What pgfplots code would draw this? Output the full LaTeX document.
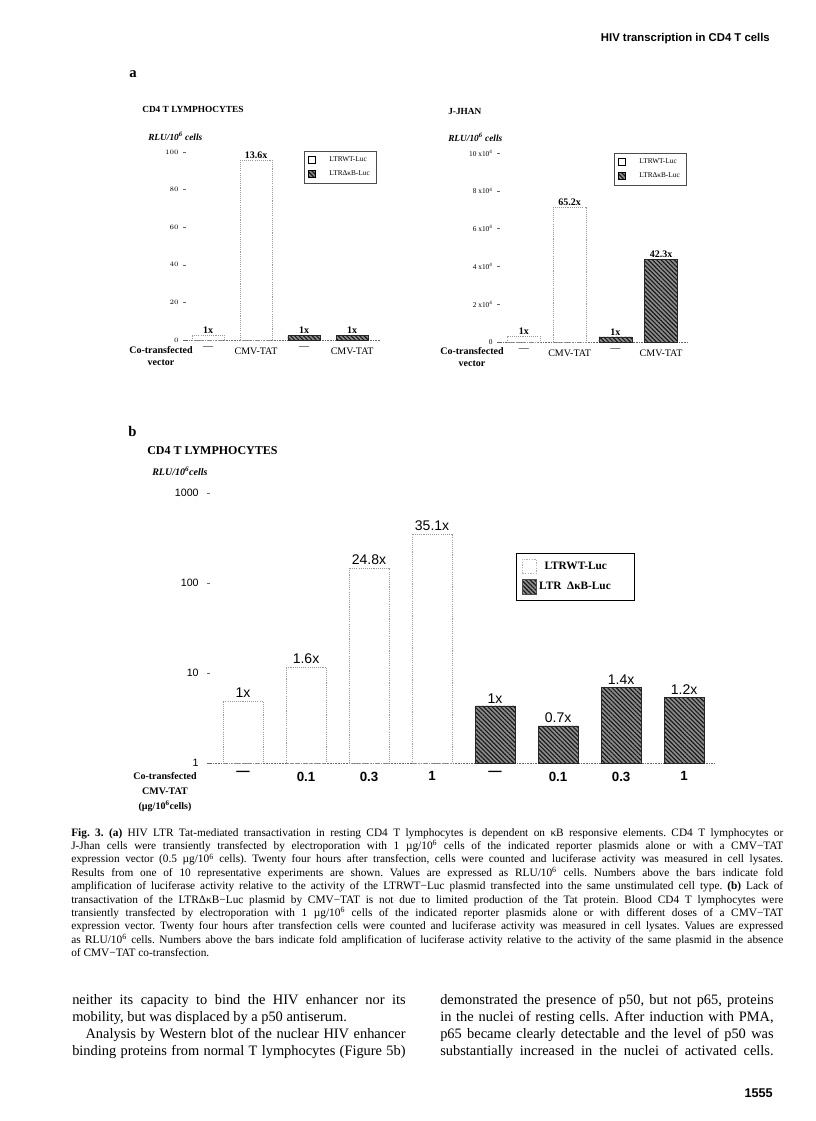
\documentclass[border=0pt]{standalone}
\usepackage{fontspec}
\setmainfont{Liberation Serif}
\setsansfont{Liberation Sans}
\usepackage{pgfplots}
\pgfplotsset{compat=1.18}
\usetikzlibrary{patterns,patterns.meta}
\frenchspacing

\tikzset{
  hatch/.style={fill=black!45, draw=black!85, line width=0.4pt,
    postaction={pattern={Lines[angle=-45,distance=2.3pt,line width=0.85pt]},pattern color=black!90}},
  wtbar/.style={fill=white, draw=black!40, dash pattern=on 0.8pt off 0.8pt, line width=0.5pt},
}
\pgfplotsset{
  scanbase/.style={
    scale only axis, anchor=south west,
    axis x line*=bottom, axis y line*=left,
    y axis line style={draw=none},
    x axis line style={black!60, line width=0.6pt, dash pattern=on 1.2pt off 0.8pt},
    xtick style={draw=none},
    ytick style={black!60, line width=0.4pt},
    tick align=outside, major tick length=2pt, minor tick length=0pt,
    ybar, nodes near coords, point meta=explicit symbolic,
    every node near coord/.append style={anchor=south, inner sep=1pt, text=black},
    clip=false, legend cell align=left,
  }
}
\def\capfont{\fontsize{8.5}{9.5}\selectfont}
\def\bodyfont{\fontsize{10.8}{12}\selectfont}
\newcommand\capline[2]{\node[anchor=base west, inner sep=0pt] at (71,#1) {\capfont\makebox[534pt][s]{#2}};}

\begin{document}
\begin{tikzpicture}
\path[use as bounding box] (0pt,0pt) rectangle (612pt,-840.75pt);

% ---------------- Panel a, CD4 T lymphocytes
\begin{axis}[scanbase,
  at={(139.5pt,-255pt)}, width=145.5pt, height=141pt,
  xmin=-0.458, xmax=3.58, ymin=0, ymax=100,
  ytick={0,20,40,60,80,100},
  xtick={0,1,2,3}, xticklabels={—,CMV-TAT,—,CMV-TAT},
  x tick label style={font=\fontsize{7.5}{8}\selectfont},
  y tick label style={font=\fontsize{5.5}{6}\selectfont},
  bar width=0.67,
  every node near coord/.append style={font=\bfseries\fontsize{7.5}{8}\selectfont},
  legend style={at={(0.608,1.005)}, anchor=north west, draw=black!70, line width=0.5pt,
    font=\fontsize{5.5}{6}\selectfont, inner xsep=3pt, inner ysep=2pt, row sep=1.5pt,
    /tikz/every even column/.append style={column sep=4pt}},
]
\addplot[wtbar, bar shift=0pt, forget plot] coordinates {(0,2.7)[1x] (1,95.5)[13.6x]};
\addplot[hatch, bar shift=0pt, forget plot] coordinates {(2,2.6)[1x] (3,2.6)[1x]};
\addlegendimage{legend image code/.code={\draw[black, line width=0.7pt, fill=white] (0pt,-2.6pt) rectangle (5.2pt,2.6pt);}}
\addlegendentry{\hspace*{8pt}LTRWT-Luc}
\addlegendimage{legend image code/.code={\draw[hatch, draw=black, line width=0.5pt] (0pt,-2.6pt) rectangle (5.2pt,2.6pt);}}
\addlegendentry{\hspace*{8pt}LTRΔκB-Luc}
\end{axis}

% ---------------- Panel a, J-JHAN
\begin{axis}[scanbase,
  at={(375pt,-256.5pt)}, width=141pt, height=141.75pt,
  xmin=-0.525, xmax=3.59, ymin=0, ymax=10,
  ytick={0,2,4,6,8,10},
  yticklabels={0,{2 x10\textsuperscript{4}},{4 x10\textsuperscript{4}},{6 x10\textsuperscript{4}},{8 x10\textsuperscript{4}},{10 x10\textsuperscript{4}}},
  xtick={0,1,2,3}, xticklabels={—,CMV-TAT,—,CMV-TAT},
  x tick label style={font=\fontsize{7.5}{8}\selectfont},
  y tick label style={font=\fontsize{5.5}{6}\selectfont},
  bar width=0.72,
  every node near coord/.append style={font=\bfseries\fontsize{7.5}{8}\selectfont},
  legend style={at={(0.606,1.0)}, anchor=north west, draw=black!70, line width=0.5pt,
    font=\fontsize{5.5}{6}\selectfont, inner xsep=3pt, inner ysep=2pt, row sep=1.5pt,
    /tikz/every even column/.append style={column sep=4pt}},
]
\addplot[wtbar, bar shift=0pt, forget plot] coordinates {(0,0.3)[1x] (1,7.15)[65.2x]};
\addplot[hatch, bar shift=0pt, forget plot] coordinates {(2,0.27)[1x] (3,4.39)[42.3x]};
\addlegendimage{legend image code/.code={\draw[black, line width=0.7pt, fill=white] (0pt,-2.6pt) rectangle (5.2pt,2.6pt);}}
\addlegendentry{\hspace*{8pt}LTRWT-Luc}
\addlegendimage{legend image code/.code={\draw[hatch, draw=black, line width=0.5pt] (0pt,-2.6pt) rectangle (5.2pt,2.6pt);}}
\addlegendentry{\hspace*{8pt}LTRΔκB-Luc}
\end{axis}

% ---------------- Panel b
\begin{axis}[scanbase,
  at={(157.5pt,-572.25pt)}, width=378.75pt, height=202.5pt,
  ymode=log, ymin=1, ymax=1000,
  ytick={1,10,100,1000}, yticklabels={1,10,100,1000},
  yminorticks=false,
  xmin=-0.524, xmax=7.49,
  xtick={0,1,2,3,4,5,6,7}, xticklabels={—,0.1,0.3,1,—,0.1,0.3,1},
  x tick label style={font=\sffamily\bfseries\fontsize{10}{11}\selectfont, yshift=-1pt},
  y tick label style={font=\sffamily\fontsize{8}{9}\selectfont, xshift=-3pt},
  bar width=0.635,
  every node near coord/.append style={font=\sffamily\fontsize{10.5}{12}\selectfont, inner sep=2pt},
  legend style={at={(0.606,0.778)}, anchor=north west, draw=black, line width=0.6pt,
    font=\bfseries\fontsize{8.5}{10}\selectfont, inner xsep=4pt, inner ysep=4pt, row sep=4pt,
    /tikz/every even column/.append style={column sep=9pt}},
]
\addplot[wtbar, bar shift=0pt, forget plot] coordinates {(0,4.9)[1x] (1,11.7)[1.6x] (2,147)[24.8x] (3,350)[35.1x]};
\addplot[hatch, bar shift=0pt, forget plot] coordinates {(4,4.3)[1x] (5,2.58)[0.7x] (6,6.93)[1.4x] (7,5.37)[1.2x]};
\addlegendimage{legend image code/.code={\draw[black!30, dash pattern=on 1pt off 1pt] (0pt,-5.5pt) rectangle (10.5pt,5.5pt);}}
\addlegendentry{\hspace*{4pt}LTRWT-Luc\hspace*{12pt}}
\addlegendimage{legend image code/.code={\draw[hatch, draw=black!70] (0pt,-5.5pt) rectangle (10.5pt,5.5pt);}}
\addlegendentry{LTR\ \ ΔκB-Luc\hspace*{12pt}}
\end{axis}

\begin{scope}[x=0.75pt,y=-0.75pt]
% header
\node[anchor=base east, inner sep=0pt] at (770,41) {\sffamily\bfseries\fontsize{8.5}{10}\selectfont HIV transcription in CD4 T cells};
% panel a labels
\node[anchor=base west, inner sep=0pt] at (129,77) {\bfseries\fontsize{11}{12}\selectfont a};
\node[anchor=west, inner sep=0pt] at (142,109) {\bfseries\fontsize{7}{8}\selectfont CD4 T LYMPHOCYTES};
\node[anchor=west, inner sep=0pt] at (148,136) {\bfseries\itshape\fontsize{7}{8}\selectfont RLU/10\textsuperscript{6} cells};
\node[anchor=west, inner sep=0pt] at (448,111) {\bfseries\fontsize{7}{8}\selectfont J-JHAN};
\node[anchor=west, inner sep=0pt] at (448,137) {\bfseries\itshape\fontsize{7}{8}\selectfont RLU/10\textsuperscript{6} cells};
\node[align=center, inner sep=0pt, font=\bfseries\fontsize{7.5}{9}\selectfont] at (161,356) {Co-transfected\\vector};
\node[align=center, inner sep=0pt, font=\bfseries\fontsize{7.5}{9}\selectfont] at (472,357) {Co-transfected\\vector};
% panel b labels
\node[anchor=base west, inner sep=0pt] at (128,436) {\bfseries\fontsize{11}{12}\selectfont b};
\node[anchor=west, inner sep=0pt] at (147,451) {\bfseries\fontsize{9}{10}\selectfont CD4 T LYMPHOCYTES};
\node[anchor=west, inner sep=0pt] at (152,471) {\bfseries\itshape\fontsize{7.5}{8}\selectfont RLU/10\textsuperscript{6}cells};
\node[align=center, inner sep=0pt, font=\bfseries\fontsize{7.5}{11}\selectfont] at (165,792) {Co-transfected\\CMV-TAT\\(µg/10\textsuperscript{6}cells)};
% caption
\capline{836}{{\bfseries Fig. 3. (a)} HIV LTR Tat-mediated transactivation in resting CD4 T lymphocytes is dependent on κB responsive elements. CD4 T lymphocytes or}
\capline{849.4}{J-Jhan cells were transiently transfected by electroporation with 1 µg/10\textsuperscript{6} cells of the indicated reporter plasmids alone or with a CMV−TAT}
\capline{862.8}{expression vector (0.5 µg/10\textsuperscript{6} cells). Twenty four hours after transfection, cells were counted and luciferase activity was measured in cell lysates.}
\capline{876.2}{Results from one of 10 representative experiments are shown. Values are expressed as RLU/10\textsuperscript{6} cells. Numbers above the bars indicate fold}
\capline{889.6}{amplification of luciferase activity relative to the activity of the LTRWT−Luc plasmid transfected into the same unstimulated cell type. {\bfseries (b)} Lack of}
\capline{903}{transactivation of the LTRΔκB−Luc plasmid by CMV−TAT is not due to limited production of the Tat protein. Blood CD4 T lymphocytes were}
\capline{916.4}{transiently transfected by electroporation with 1 µg/10\textsuperscript{6} cells of the indicated reporter plasmids alone or with different doses of a CMV−TAT}
\capline{929.8}{expression vector. Twenty four hours after transfection cells were counted and luciferase activity was measured in cell lysates. Values are expressed}
\capline{943.2}{as RLU/10\textsuperscript{6} cells. Numbers above the bars indicate fold amplification of luciferase activity relative to the activity of the same plasmid in the absence}
\node[anchor=base west, inner sep=0pt] at (71,956.6) {\capfont of CMV−TAT co-transfection.};
% body text
\node[anchor=base west, inner sep=0pt] at (72,1004) {\bodyfont\makebox[250pt][s]{neither its capacity to bind the HIV enhancer nor its}};
\node[anchor=base west, inner sep=0pt] at (72,1021) {\bodyfont mobility, but was displaced by a p50 antiserum.};
\node[anchor=base west, inner sep=0pt] at (72,1038) {\bodyfont\makebox[250pt][s]{\hspace*{10pt}Analysis by Western blot of the nuclear HIV enhancer}};
\node[anchor=base west, inner sep=0pt] at (72,1055) {\bodyfont\makebox[250pt][s]{binding proteins from normal T lymphocytes (Figure 5b)}};
\node[anchor=base west, inner sep=0pt] at (440,1004) {\bodyfont\makebox[250pt][s]{demonstrated the presence of p50, but not p65, proteins}};
\node[anchor=base west, inner sep=0pt] at (440,1021) {\bodyfont\makebox[250pt][s]{in the nuclei of resting cells. After induction with PMA,}};
\node[anchor=base west, inner sep=0pt] at (440,1038) {\bodyfont\makebox[250pt][s]{p65 became clearly detectable and the level of p50 was}};
\node[anchor=base west, inner sep=0pt] at (440,1055) {\bodyfont\makebox[250pt][s]{substantially increased in the nuclei of activated cells.}};
% page number
\node[anchor=base east, inner sep=0pt] at (773,1097) {\sffamily\bfseries\fontsize{9.5}{11}\selectfont 1555};
\end{scope}
\end{tikzpicture}
\end{document}
